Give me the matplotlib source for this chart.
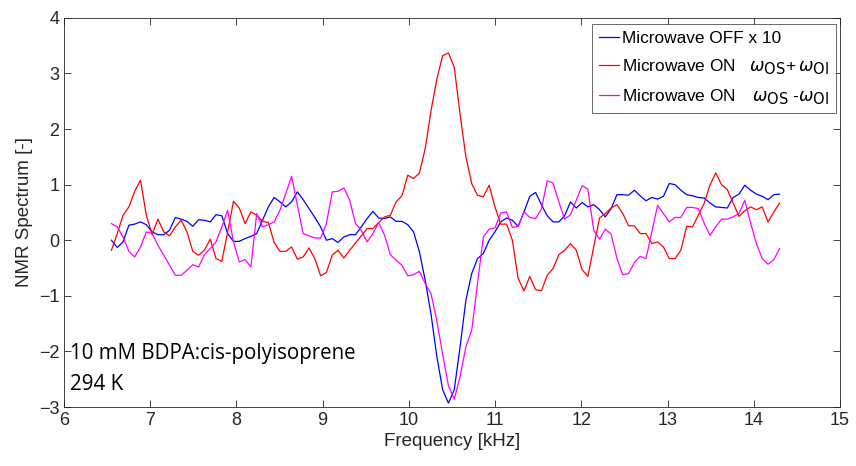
import numpy as np
import matplotlib
matplotlib.use("Agg")
import matplotlib.pyplot as plt
import matplotlib._mathtext as mathtext_impl

# frequency axis of the spectra (kHz), 116 evenly spaced bins
freq = np.linspace(6.55, 14.30, 116)

# microwave off, scaled by 10
mw_off = [
    0.00, -0.13, -0.03, 0.27, 0.29, 0.33, 0.28, 0.15, 0.10, 0.10, 0.18, 0.41, 0.38, 0.34, 0.25, 0.37,
    0.36, 0.33, 0.46, 0.44, 0.12,
    -0.02, -0.02, 0.03, 0.07, 0.12, 0.36, 0.60, 0.77, 0.69, 0.60, 0.69, 0.87, 0.73, 0.57, 0.41, 0.24,
    0.00, 0.03, -0.04, 0.06, 0.10, 0.10,
    0.24, 0.39, 0.52, 0.40, 0.39, 0.42, 0.34, 0.34, 0.28, 0.15, -0.21, -0.72, -1.33, -2.09, -2.69, -2.93,
    -2.69, -1.92, -1.08, -0.60, -0.33, -0.24, 0.00, 0.15, 0.33,
    0.40, 0.36, 0.25, 0.51, 0.79, 0.86, 0.64, 0.44, 0.33, 0.33, 0.44, 0.69, 0.58, 0.68, 0.60, 0.64,
    0.55, 0.42, 0.57, 0.82, 0.82, 0.81, 0.90, 0.80,
    0.71, 0.77, 0.74, 0.79, 1.02, 1.00, 0.90, 0.82, 0.80, 0.77, 0.76, 0.67, 0.60, 0.59, 0.58, 0.77,
    0.83, 0.99, 0.90, 0.83, 0.79, 0.73, 0.82, 0.83,
]

# microwave on, w_OS + w_OI
mw_on_plus = [
    -0.18, 0.12, 0.45, 0.60, 0.88, 1.08, 0.45, 0.10, 0.38, 0.15, 0.08, 0.24, 0.36, 0.15, -0.20, -0.27,
    -0.18, 0.02, -0.33, -0.38, 0.15, 0.70, 0.58, 0.30, 0.51, 0.45, 0.34, 0.32, -0.04, -0.20, -0.20,
    -0.12, -0.34, -0.30, -0.14, -0.33, -0.64, -0.58, -0.27, -0.18, -0.32, -0.18,
    -0.05, 0.08, 0.21, 0.21, 0.32, 0.42, 0.45, 0.69, 0.80, 1.17, 1.11, 1.21, 1.65, 2.33, 2.90, 3.32,
    3.37, 3.11, 2.27, 1.50, 1.02, 0.81, 0.78, 0.99, 0.60, 0.29, 0.29, 0.00, -0.69, -0.91, -0.65, -0.89,
    -0.91,
    -0.63, -0.51, -0.26, -0.18, -0.06, -0.18, -0.53, -0.65, -0.12, 0.40, 0.48, 0.58, 0.64, 0.48, 0.26,
    0.26, 0.12,
    0.12, -0.06, -0.03, -0.12, -0.33, -0.33, -0.18, 0.25, 0.24, 0.45, 0.66, 0.99, 1.21, 1.00, 0.91,
    0.67, 0.43, 0.53, 0.60, 0.55, 0.60, 0.33, 0.51, 0.67,
]

# microwave on, w_OS - w_OI
mw_on_minus = [
    0.30, 0.24, 0.06, -0.20, -0.30, -0.12, 0.15, 0.12, -0.09, -0.27, -0.45, -0.63, -0.63, -0.54, -0.44,
    -0.48, -0.26, -0.15, -0.03, 0.24, 0.54,
    -0.03, -0.39, -0.35, -0.48, 0.48, 0.24, 0.28, 0.33, 0.54, 0.84, 1.15, 0.63, 0.12, 0.08, 0.04, 0.04,
    0.30, 0.87, 0.88, 0.94, 0.72, 0.30,
    0.18, -0.03, 0.12, 0.32, 0.09, -0.26, -0.36, -0.45, -0.64, -0.62, -0.56, -0.78, -0.96,
    -1.45, -2.05, -2.62, -2.86, -2.45, -1.92, -1.62, -0.78, 0.06, 0.20, 0.22, 0.49,
    0.51, 0.23, 0.25, 0.51, 0.41, 0.39, 0.56, 1.07, 1.03, 0.69, 0.38, 0.46, 0.72, 0.98, 0.92, 0.18,
    0.02, 0.20, 0.11, -0.33, -0.62, -0.60, -0.40, -0.29,
    -0.33, 0.15, 0.63, 0.48, 0.33, 0.41, 0.41, 0.59, 0.59, 0.57, 0.31, 0.09, 0.24, 0.38, 0.38, 0.42,
    0.48, 0.72, 0.31, -0.06, -0.33, -0.43, -0.35, -0.15,
]

x_ticks = list(range(6, 16))
y_ticks = list(range(-3, 5))

plt.rcParams["font.family"] = ["Liberation Sans", "DejaVu Sans"]
# bigger subscripts in the legend, closer to the tex look
if hasattr(mathtext_impl, "SHRINK_FACTOR"):
    mathtext_impl.SHRINK_FACTOR = 0.85

fig = plt.figure(figsize=(8.56, 4.66), dpi=100)
ax = fig.add_axes([0.0748, 0.1266, 0.9065, 0.835])

ax.plot(freq, mw_off, color=(0, 0, 1), lw=0.9, label="Microwave OFF x 10")
ax.plot(freq, mw_on_plus, color=(1, 0, 0), lw=0.9,
        label=r"Microwave ON  $\;\omega_{\mathrm{OS}}$+$\,\omega_{\mathrm{OI}}$")
ax.plot(freq, mw_on_minus, color=(1, 0, 1), lw=0.9,
        label=r"Microwave ON  $\;\,\omega_{\mathrm{OS}}$ -$\omega_{\mathrm{OI}}$")

ax.set_xlim(6, 15)
ax.set_ylim(-3, 4)
ax.set_xticks(x_ticks)
ax.set_yticks(y_ticks)
ax.tick_params(direction="in", length=5, width=0.6, top=True, right=True,
               labelsize=13, colors="#262626")
for s in ax.spines.values():
    s.set_color("#262626")
    s.set_linewidth(0.6)

ax.set_xlabel("Frequency [kHz]", fontsize=13.5, color="#262626", labelpad=3)
ax.set_ylabel("NMR Spectrum [-]", fontsize=13.5, color="#262626", labelpad=4)

leg = ax.legend(loc="upper right", bbox_to_anchor=(0.995, 0.985), fontsize=12.4,
                handlelength=1.2, handletextpad=0.15, borderpad=0.4, labelspacing=0.65,
                frameon=True, fancybox=False, borderaxespad=0)
leg.get_frame().set_edgecolor("#262626")
leg.get_frame().set_linewidth(0.6)

ax.text(0.008, 0.123, "10 mM BDPA:cis-polyisoprene", transform=ax.transAxes,
        fontsize=14.8, family="Open Sans", va="baseline")
ax.text(0.008, 0.044, "294 K", transform=ax.transAxes,
        fontsize=14.8, family="Open Sans", va="baseline")

fig.savefig("out.png", dpi=100)
